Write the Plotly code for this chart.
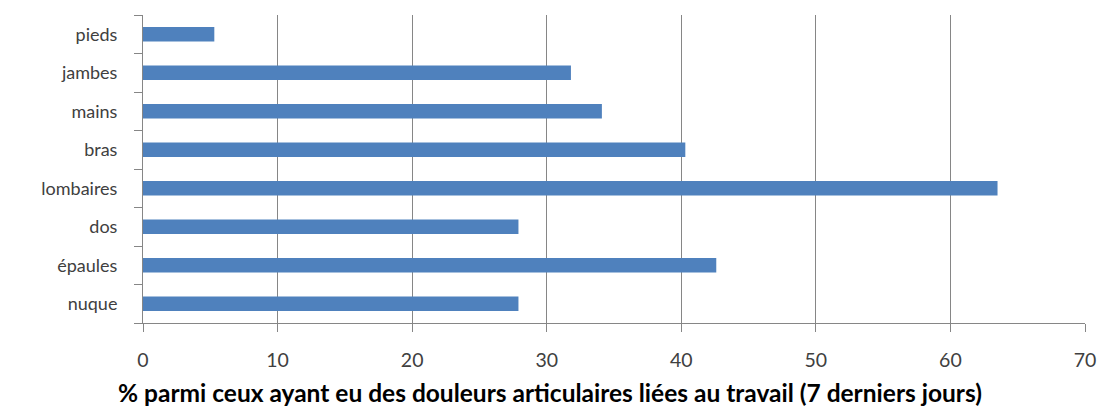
import plotly.graph_objects as go

categories = ["nuque", "épaules", "dos", "lombaires", "bras", "mains", "jambes", "pieds"]
values = [27.9, 42.6, 27.9, 63.5, 40.3, 34.1, 31.8, 5.3]
x_ticks = [0, 10, 20, 30, 40, 50, 60, 70]
x_title = "% parmi ceux ayant eu des douleurs articulaires liées au travail (7 derniers jours)"

W, H = 1102, 407
ml, mr, mt, mb = 143, 17, 15, 84

fig = go.Figure(go.Bar(
    x=values, y=categories, orientation="h",
    marker=dict(color="#4F81BD", line=dict(width=0)),
    width=0.375,
))

fig.update_layout(
    width=W, height=H,
    margin=dict(l=ml, r=mr, t=mt, b=mb, pad=0),
    paper_bgcolor="white", plot_bgcolor="white",
    showlegend=False,
    font=dict(family="Lato, Open Sans, sans-serif", size=18, color="#404040"),
)
fig.update_xaxes(
    range=[0, 70], tickvals=x_ticks, ticktext=[str(t) for t in x_ticks],
    showgrid=True, gridcolor="#868686", gridwidth=1,
    showline=True, linecolor="#868686", linewidth=1,
    ticks="outside", ticklen=8, tickcolor="#868686",
    ticklabelstandoff=12,
    zeroline=False, fixedrange=True, automargin=False,
    tickfont=dict(size=19.5, color="#404040"),
)
fig.update_yaxes(
    categoryorder="array", categoryarray=categories,
    range=[-0.5, len(categories) - 0.5],
    showgrid=False, showline=True, linecolor="#868686", linewidth=1,
    ticks="outside", tickson="boundaries", ticklen=8, tickcolor="#868686",
    ticklabelstandoff=21, automargin=False, fixedrange=True,
    tickfont=dict(size=18, color="#404040"),
)
plot_h = H - mt - mb
fig.add_annotation(
    text="<b>" + x_title + "</b>", xref="paper", yref="paper",
    x=(550 - ml) / (W - ml - mr), y=-(392 - (H - mb)) / plot_h,
    xanchor="center", yanchor="middle",
    showarrow=False, font=dict(family="Lato, Open Sans, sans-serif", size=24.5, color="#000000"),
)

fig.write_html(
    "out.html",
    config={"displayModeBar": False},
    post_script="document.body.style.margin='0';document.body.style.overflow='hidden';",
)
